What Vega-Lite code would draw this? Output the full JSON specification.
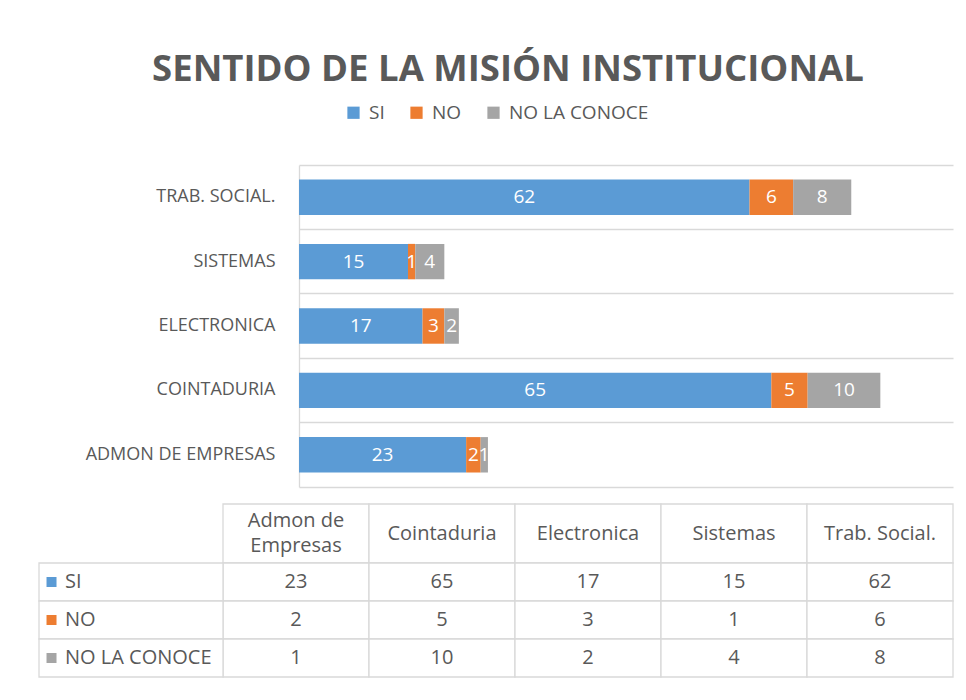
{
  "$schema": "https://vega.github.io/schema/vega-lite/v6.json",
  "background": "white",
  "padding": {"left": 38, "top": 51, "right": 0, "bottom": 0},
  "title": {"text": "SENTIDO DE LA MISIÓN INSTITUCIONAL", "font": "Open Sans", "fontSize": 36.5, "fontWeight": "bold", "color": "#595959", "anchor": "middle", "offset": 15, "dx": 12},
  "config": {"view": {"stroke": null}, "font": "Open Sans"},
  "datasets": {
    "d": [
      {"cat": "Admon de Empresas", "serie": "SI", "value": 23},
      {"cat": "Admon de Empresas", "serie": "NO", "value": 2},
      {"cat": "Admon de Empresas", "serie": "NO LA CONOCE", "value": 1},
      {"cat": "Cointaduria", "serie": "SI", "value": 65},
      {"cat": "Cointaduria", "serie": "NO", "value": 5},
      {"cat": "Cointaduria", "serie": "NO LA CONOCE", "value": 10},
      {"cat": "Electronica", "serie": "SI", "value": 17},
      {"cat": "Electronica", "serie": "NO", "value": 3},
      {"cat": "Electronica", "serie": "NO LA CONOCE", "value": 2},
      {"cat": "Sistemas", "serie": "SI", "value": 15},
      {"cat": "Sistemas", "serie": "NO", "value": 1},
      {"cat": "Sistemas", "serie": "NO LA CONOCE", "value": 4},
      {"cat": "Trab. Social.", "serie": "SI", "value": 62},
      {"cat": "Trab. Social.", "serie": "NO", "value": 6},
      {"cat": "Trab. Social.", "serie": "NO LA CONOCE", "value": 8}
    ]
  },
  "resolve": {"scale": {"color": "independent"}},
  "spacing": 16,
  "vconcat": [
    {
      "width": 654,
      "height": 322,
      "data": {"name": "d"},
      "transform": [{"calculate": "indexof(['SI','NO','NO LA CONOCE'], datum.serie)", "as": "orden"}],
      "encoding": {
        "y": {
          "field": "cat", "type": "nominal",
          "sort": ["Trab. Social.", "Sistemas", "Electronica", "Cointaduria", "Admon de Empresas"],
          "scale": {"paddingInner": 0.45, "paddingOuter": 0.225},
          "axis": {"title": null, "labelExpr": "upper(datum.label)", "labelFontSize": 18, "labelColor": "#595959", "labelPadding": 24, "labelLimit": 400, "ticks": false, "domainColor": "#D9D9D9", "domainWidth": 1.3, "grid": true, "gridColor": "#D9D9D9", "gridWidth": 1.3, "bandPosition": -0.409}
        }
      },
      "layer": [
        {
          "mark": {"type": "bar"},
          "encoding": {
            "x": {"field": "value", "type": "quantitative", "stack": "zero", "scale": {"domain": [0, 90], "nice": false}, "axis": {"title": null, "labels": false, "ticks": false, "grid": false, "domain": true, "domainColor": "#D9D9D9", "domainWidth": 1.3}},
            "order": {"field": "orden", "type": "quantitative"},
            "color": {
              "field": "serie", "type": "nominal",
              "scale": {"domain": ["SI", "NO", "NO LA CONOCE"], "range": ["#5B9BD5", "#ED7D31", "#A5A5A5"]},
              "legend": {"title": null, "orient": "none", "legendX": 45, "legendY": -62, "direction": "horizontal", "symbolType": "square", "symbolSize": 150, "symbolStrokeWidth": 0, "symbolOpacity": 1, "labelFontSize": 19, "labelColor": "#595959", "labelOffset": 6, "columnPadding": 22}
            }
          }
        },
        {
          "mark": {"type": "text", "color": "white", "fontSize": 19, "baseline": "middle"},
          "encoding": {
            "x": {"field": "value", "type": "quantitative", "stack": "zero", "bandPosition": 0.5},
            "order": {"field": "orden", "type": "quantitative"},
            "detail": {"field": "serie"},
            "text": {"field": "value", "type": "quantitative"}
          }
        }
      ]
    },
    {
      "width": 654,
      "height": 173,
      "data": {"name": "d"},
      "resolve": {"scale": {"x": "independent", "y": "independent"}},
      "layer": [
        {
          "transform": [{"filter": "datum.serie == 'SI'"}],
          "mark": {"type": "rect", "fill": "white", "stroke": "#D9D9D9", "strokeWidth": 1.3},
          "encoding": {
            "x": {"field": "cat", "type": "nominal", "scale": {"type": "band", "domain": ["Admon de Empresas", "Cointaduria", "Electronica", "Sistemas", "Trab. Social."], "range": [-76, 654], "paddingInner": 0, "paddingOuter": 0}, "axis": null},
            "y": {"field": "serie", "type": "nominal", "scale": {"type": "band", "domain": ["SI"], "range": [0, 59], "paddingInner": 0, "paddingOuter": 0}, "axis": null}
          }
        },
        {
          "transform": [{"filter": "datum.serie == 'SI' && datum.cat != 'Admon de Empresas'"}],
          "mark": {"type": "text", "fontSize": 20, "color": "#595959", "baseline": "middle"},
          "encoding": {
            "x": {"field": "cat", "type": "nominal", "bandPosition": 0.5, "scale": {"type": "band", "domain": ["Admon de Empresas", "Cointaduria", "Electronica", "Sistemas", "Trab. Social."], "range": [-76, 654], "paddingInner": 0, "paddingOuter": 0}, "axis": null},
            "y": {"field": "serie", "type": "nominal", "bandPosition": 0.5, "scale": {"type": "band", "domain": ["SI"], "range": [0, 59], "paddingInner": 0, "paddingOuter": 0}, "axis": null},
            "text": {"field": "cat", "type": "nominal"}
          }
        },
        {
          "transform": [
            {"filter": "datum.serie == 'SI' && datum.cat == 'Admon de Empresas'"},
            {"calculate": "replace(datum.cat, 'Admon de ', 'Admon de\\n')", "as": "hdr"}
          ],
          "mark": {"type": "text", "fontSize": 20, "color": "#595959", "lineBreak": "\n", "lineHeight": 25, "baseline": "middle", "dy": -12.5},
          "encoding": {
            "x": {"field": "cat", "type": "nominal", "bandPosition": 0.5, "scale": {"type": "band", "domain": ["Admon de Empresas", "Cointaduria", "Electronica", "Sistemas", "Trab. Social."], "range": [-76, 654], "paddingInner": 0, "paddingOuter": 0}, "axis": null},
            "y": {"field": "serie", "type": "nominal", "bandPosition": 0.5, "scale": {"type": "band", "domain": ["SI"], "range": [0, 59], "paddingInner": 0, "paddingOuter": 0}, "axis": null},
            "text": {"field": "hdr", "type": "nominal"}
          }
        },
        {
          "mark": {"type": "rect", "fill": "white", "stroke": "#D9D9D9", "strokeWidth": 1.3},
          "encoding": {
            "x": {"field": "cat", "type": "nominal", "scale": {"type": "band", "domain": ["Admon de Empresas", "Cointaduria", "Electronica", "Sistemas", "Trab. Social."], "range": [-76, 654], "paddingInner": 0, "paddingOuter": 0}, "axis": null},
            "y": {"field": "serie", "type": "nominal", "scale": {"type": "band", "domain": ["SI", "NO", "NO LA CONOCE"], "range": [59, 173], "paddingInner": 0, "paddingOuter": 0}, "axis": null}
          }
        },
        {
          "mark": {"type": "text", "fontSize": 20, "color": "#595959", "baseline": "middle"},
          "encoding": {
            "x": {"field": "cat", "type": "nominal", "bandPosition": 0.5, "scale": {"type": "band", "domain": ["Admon de Empresas", "Cointaduria", "Electronica", "Sistemas", "Trab. Social."], "range": [-76, 654], "paddingInner": 0, "paddingOuter": 0}, "axis": null},
            "y": {"field": "serie", "type": "nominal", "bandPosition": 0.5, "scale": {"type": "band", "domain": ["SI", "NO", "NO LA CONOCE"], "range": [59, 173], "paddingInner": 0, "paddingOuter": 0}, "axis": null},
            "text": {"field": "value", "type": "quantitative"}
          }
        },
        {
          "transform": [{"filter": "datum.cat == 'Admon de Empresas'"}],
          "mark": {"type": "rect", "fill": "white", "stroke": "#D9D9D9", "strokeWidth": 1.3},
          "encoding": {
            "x": {"field": "cat", "type": "nominal", "scale": {"type": "band", "domain": ["Admon de Empresas"], "range": [-260, -76], "paddingInner": 0, "paddingOuter": 0}, "axis": null},
            "y": {"field": "serie", "type": "nominal", "scale": {"type": "band", "domain": ["SI", "NO", "NO LA CONOCE"], "range": [59, 173], "paddingInner": 0, "paddingOuter": 0}, "axis": null}
          }
        },
        {
          "transform": [{"filter": "datum.cat == 'Admon de Empresas'"}],
          "mark": {"type": "square", "size": 100, "opacity": 1, "filled": true},
          "encoding": {
            "x": {"field": "cat", "type": "nominal", "bandPosition": 0.068, "scale": {"type": "band", "domain": ["Admon de Empresas"], "range": [-260, -76], "paddingInner": 0, "paddingOuter": 0}, "axis": null},
            "y": {"field": "serie", "type": "nominal", "bandPosition": 0.5, "scale": {"type": "band", "domain": ["SI", "NO", "NO LA CONOCE"], "range": [59, 173], "paddingInner": 0, "paddingOuter": 0}, "axis": null},
            "color": {"field": "serie", "type": "nominal", "scale": {"domain": ["SI", "NO", "NO LA CONOCE"], "range": ["#5B9BD5", "#ED7D31", "#A5A5A5"]}, "legend": null}
          }
        },
        {
          "transform": [{"filter": "datum.cat == 'Admon de Empresas'"}],
          "mark": {"type": "text", "fontSize": 20, "color": "#595959", "align": "left", "baseline": "middle"},
          "encoding": {
            "x": {"field": "cat", "type": "nominal", "bandPosition": 0.141, "scale": {"type": "band", "domain": ["Admon de Empresas"], "range": [-260, -76], "paddingInner": 0, "paddingOuter": 0}, "axis": null},
            "y": {"field": "serie", "type": "nominal", "bandPosition": 0.5, "scale": {"type": "band", "domain": ["SI", "NO", "NO LA CONOCE"], "range": [59, 173], "paddingInner": 0, "paddingOuter": 0}, "axis": null},
            "text": {"field": "serie", "type": "nominal"}
          }
        }
      ]
    }
  ]
}
